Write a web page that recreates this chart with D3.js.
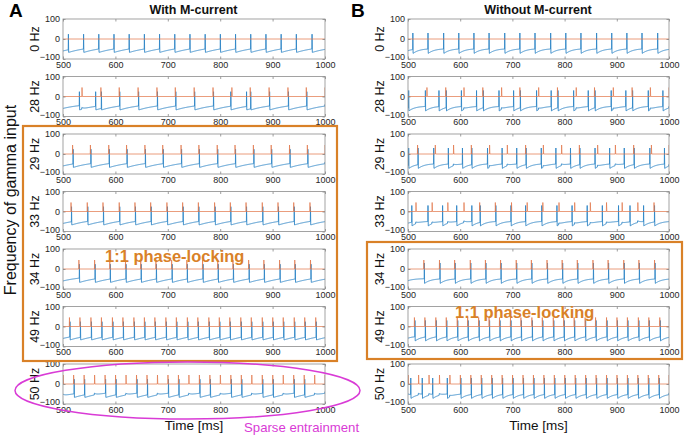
<!DOCTYPE html>
<html>
<head>
<meta charset="utf-8">
<script src="https://cdn.jsdelivr.net/npm/d3@7"></script>
<style>
body { margin: 0; background: #fff; }
svg { display: block; font-family: "Liberation Sans", Arial, Helvetica, sans-serif; }
</style>
</head>
<body>
<svg id="fig" width="685" height="437"></svg>
<script>
// row labels (gamma input frequency)
const rowLabels = ["0 Hz", "28 Hz", "29 Hz", "33 Hz", "34 Hz", "49 Hz", "50 Hz"];
const xTicks = [500, 600, 700, 800, 900, 1000];
const yTicks = [-100, 0, 100];

// gamma input pulse times [ms]
const pulses0 = [];
const pulses28 = [536, 572, 607, 643, 679, 714, 750, 786, 822, 857, 893, 929, 964, 1000];
const pulses29 = [518, 552, 587, 621, 656, 690, 725, 759, 794, 828, 863, 897, 932, 966, 1000];
const pulses33 = [515, 546, 576, 607, 637, 667, 698, 728, 758, 789, 819, 849, 880, 910, 940, 971];
const pulses34 = [530, 560, 589, 619, 648, 677, 707, 736, 766, 795, 824, 854, 883, 913, 942, 972];
const pulses49 = [512, 532, 553, 573, 594, 614, 635, 655, 675, 696, 716, 737, 757, 778, 798, 818, 839, 859, 880, 900, 920, 941, 961, 982];
const pulses50 = [500, 520, 540, 560, 580, 600, 620, 640, 660, 680, 700, 720, 740, 760, 780, 800, 820, 840, 860, 880, 900, 920, 940, 960, 980, 1000];

// spike times [ms] of the blue voltage traces, A = with M-current
const spikesA0 = [510, 539, 568, 597, 626, 655, 684, 713, 742, 771, 800, 829, 858, 887, 916, 945, 975];
const spikesA28 = [531, 562, 573, 608, 644, 680, 715, 751, 787, 820, 850, 858, 894, 930, 965];
const spikesA29 = [519, 553, 588, 622, 657, 691, 726, 760, 795, 829, 864, 898, 933, 967];
const spikesA33 = [516, 547, 577, 608, 638, 668, 699, 729, 759, 790, 820, 850, 881, 911, 941, 972];
const spikesA34 = [531, 561, 590, 620, 649, 678, 708, 737, 767, 796, 825, 855, 884, 914, 943, 973];
const spikesA49 = [513, 533, 554, 574, 595, 615, 636, 656, 676, 697, 717, 738, 758, 779, 799, 819, 840, 860, 881, 901, 921, 942, 962, 983];
const spikesA50 = [521, 541, 581, 601, 641, 661, 701, 721, 761, 781, 821, 841, 881, 901, 941, 961];

// B = without M-current
const spikesB0 = [509, 538, 568, 597, 626, 655, 685, 714, 743, 773, 802, 831, 861, 890, 919, 948, 978];
const spikesB28 = [501, 533, 559, 573, 602, 631, 644, 674, 702, 715, 746, 774, 787, 817, 845, 858, 889, 917, 930, 960, 988];
const spikesB29 = [501, 519, 549, 577, 604, 622, 652, 680, 708, 726, 755, 783, 811, 829, 858, 886, 914, 933, 963, 991];
const spikesB33 = [507, 538, 566, 593, 622, 638, 668, 697, 725, 756, 785, 814, 843, 872, 903, 925, 951, 972];
const spikesB34 = [531, 561, 590, 620, 649, 678, 708, 737, 767, 796, 825, 855, 884, 914, 943, 973];
const spikesB49 = [513, 533, 554, 574, 595, 615, 636, 656, 676, 697, 717, 738, 758, 779, 799, 819, 840, 860, 881, 901, 921, 942, 962, 983];
const spikesB50 = [505, 527, 547, 575, 601, 621, 641, 661, 681, 701, 721, 741, 761, 781, 801, 821, 841, 861, 881, 901, 921, 941, 961, 981];

const pulseRows = [pulses0, pulses28, pulses29, pulses33, pulses34, pulses49, pulses50];
const spikeRows = [
    [spikesA0, spikesA28, spikesA29, spikesA33, spikesA34, spikesA49, spikesA50],
    [spikesB0, spikesB28, spikesB29, spikesB33, spikesB34, spikesB49, spikesB50]
];

// trace shape per column (reset, recovery, peak)
const cellShape = [
    {vr: -67, A: 33, tau: 40, peak: 24},
    {vr: -72, A: 24, tau: 12, peak: 30}
];

const svg = d3.select("#fig");
const colLeft = [63, 408];
const colRight = [325, 669];
const panelH = 40;
const rowTop = i => 19 + i * 57.5;

const blue = "#2f86c6";
const orange = "#e2764a";
const boxOrange = "#d98128";
const magenta = "#d93bd6";

function bluePoints(spikes, pulses, p)
{
    let pts = [];
    let prev = 490;
    let si = 0;
    // input pulses that did not make the cell fire give a small bump
    let free = pulses.filter(tp => !spikes.some(s => Math.abs(s - tp) <= 3));
    let v = t => {
        let val = p.vr + p.A * (1 - Math.exp(-(t - prev) / p.tau));
        free.forEach(tp => { if (tp > prev && tp <= t) val += 9 * Math.exp(-(t - tp) / 4); });
        return val;
    };
    for (let t = 500; t <= 1000; t += 0.5) {
        while (si < spikes.length && spikes[si] <= t) {
            let ts = spikes[si];
            pts.push([ts, v(ts)]);
            pts.push([ts + 0.3, p.peak]);
            pts.push([ts + 0.8, p.vr]);
            prev = ts + 0.8;
            si++;
        }
        if (t >= prev) pts.push([t, v(t)]);
    }
    return pts;
}

function orangePoints(pulses)
{
    let pts = [[500, 0]];
    pulses.forEach(tp => {
        pts.push([tp, 0]);
        pts.push([tp + 0.3, 45]);
        pts.push([tp + 0.9, 0]);
    });
    pts.push([1000, 0]);
    return pts;
}

let defs = svg.append("defs");

for (let c = 0; c < 2; c++) {
    let x = d3.scaleLinear().domain([500, 1000]).range([colLeft[c], colRight[c]]);
    for (let r = 0; r < 7; r++) {
        let top = rowTop(r);
        let y = d3.scaleLinear().domain([-100, 100]).range([top + panelH, top]);
        let g = svg.append("g");
        let clipId = "clip" + c + "_" + r;
        defs.append("clipPath").attr("id", clipId)
            .append("rect")
            .attr("x", colLeft[c]).attr("y", top)
            .attr("width", colRight[c] - colLeft[c]).attr("height", panelH);

        g.append("rect")
            .attr("x", colLeft[c]).attr("y", top)
            .attr("width", colRight[c] - colLeft[c]).attr("height", panelH)
            .attr("fill", "#fff");

        let line = d3.line().x(d => x(d[0])).y(d => y(d[1]));
        let traces = g.append("g").attr("clip-path", "url(#" + clipId + ")");
        traces.append("path")
            .datum(bluePoints(spikeRows[c][r], pulseRows[r], cellShape[c]))
            .attr("d", line)
            .attr("fill", "none")
            .attr("stroke", blue)
            .attr("stroke-width", 0.9);
        traces.append("path")
            .datum(orangePoints(pulseRows[r]))
            .attr("d", line)
            .attr("fill", "none")
            .attr("stroke", orange)
            .attr("stroke-opacity", 0.8)
            .attr("stroke-width", 0.9);

        // axes, MATLAB style: ticks inside, box all round
        let axB = g.append("g").attr("transform", "translate(0," + (top + panelH) + ")")
            .call(d3.axisBottom(x).tickValues(xTicks).tickFormat(d3.format("d"))
                .tickSizeInner(-2.5).tickSizeOuter(0).tickPadding(2.5));
        let axT = g.append("g").attr("transform", "translate(0," + top + ")")
            .call(d3.axisTop(x).tickValues(xTicks).tickSizeInner(-2.5).tickSizeOuter(0).tickFormat(""));
        let axL = g.append("g").attr("transform", "translate(" + colLeft[c] + ",0)")
            .call(d3.axisLeft(y).tickValues(yTicks).tickFormat(d3.format("d"))
                .tickSizeInner(-2.5).tickSizeOuter(0).tickPadding(3));
        let axR = g.append("g").attr("transform", "translate(" + colRight[c] + ",0)")
            .call(d3.axisRight(y).tickValues(yTicks).tickSizeInner(-2.5).tickSizeOuter(0).tickFormat(""));
        [axB, axT, axL, axR].forEach(a => {
            a.select(".domain").remove();
            a.selectAll("line").attr("stroke", "#777").attr("stroke-width", 0.7);
            a.selectAll("text").attr("fill", "#262626").style("font-size", "9px")
                .style("font-family", "'Liberation Sans', Arial, sans-serif");
        });
        // "-100" sits a little higher, as in the original MATLAB layout
        axL.selectAll("text").filter(d => d === -100).attr("dy", "0.1em");

        g.append("rect")
            .attr("x", colLeft[c]).attr("y", top)
            .attr("width", colRight[c] - colLeft[c]).attr("height", panelH)
            .attr("fill", "none")
            .attr("stroke", "#8c8c8c")
            .attr("stroke-width", 0.8);

        g.append("text")
            .attr("transform", "translate(" + (colLeft[c] - 24) + "," + (top + panelH / 2) + ") rotate(-90)")
            .attr("text-anchor", "middle")
            .attr("fill", "#111")
            .style("font-size", "12.5px")
            .text(rowLabels[r]);
    }

    svg.append("text")
        .attr("x", (colLeft[c] + colRight[c]) / 2 - 0.5).attr("y", 13.5)
        .attr("text-anchor", "middle")
        .attr("font-weight", "bold")
        .style("font-size", "12.5px")
        .attr("fill", "#111")
        .text(c === 0 ? "With M-current" : "Without M-current");

    svg.append("text")
        .attr("x", (colLeft[c] + colRight[c]) / 2).attr("y", 430)
        .attr("text-anchor", "middle")
        .style("font-size", "13.5px")
        .attr("fill", "#111")
        .text("Time [ms]");
}

// panel letters
svg.append("text").attr("x", 9).attr("y", 17).attr("font-weight", "bold")
    .style("font-size", "19px").attr("fill", "#000").text("A");
svg.append("text").attr("x", 351).attr("y", 17).attr("font-weight", "bold")
    .style("font-size", "19px").attr("fill", "#000").text("B");

// shared y label
svg.append("text")
    .attr("transform", "translate(16,200) rotate(-90)")
    .attr("text-anchor", "middle")
    .style("font-size", "16px")
    .attr("fill", "#111")
    .text("Frequency of gamma input");

// 1:1 phase-locking boxes
svg.append("rect").attr("x", 23).attr("y", 126).attr("width", 314).attr("height", 235)
    .attr("fill", "none").attr("stroke", boxOrange).attr("stroke-width", 2.2);
svg.append("rect").attr("x", 367).attr("y", 242).attr("width", 315).attr("height", 117)
    .attr("fill", "none").attr("stroke", boxOrange).attr("stroke-width", 2.2);

svg.append("text").attr("x", 105).attr("y", 262)
    .attr("font-weight", "bold").style("font-size", "16.5px").attr("fill", boxOrange)
    .text("1:1 phase-locking");
svg.append("text").attr("x", 455).attr("y", 318)
    .attr("font-weight", "bold").style("font-size", "16.5px").attr("fill", boxOrange)
    .text("1:1 phase-locking");

// sparse entrainment
svg.append("ellipse").attr("cx", 187.5).attr("cy", 390.5).attr("rx", 172.5).attr("ry", 28.5)
    .attr("fill", "none").attr("stroke", magenta).attr("stroke-width", 1.5);
svg.append("text").attr("x", 244).attr("y", 432)
    .style("font-size", "13.2px").attr("fill", magenta)
    .text("Sparse entrainment");
</script>
</body>
</html>
